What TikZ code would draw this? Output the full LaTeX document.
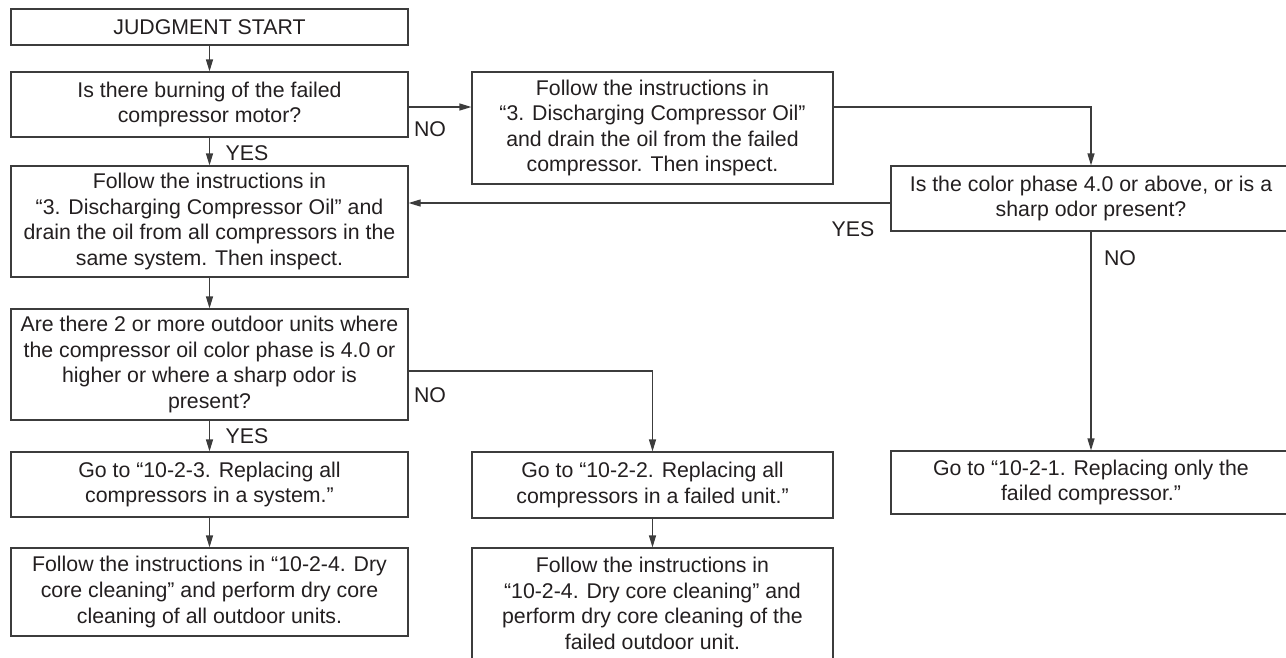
\documentclass[tikz,border=0pt]{standalone}
\usepackage{fontspec}
\setmainfont{Liberation Sans}
\usetikzlibrary{arrows.meta,positioning,calc}
\definecolor{ink}{HTML}{231F20}
\definecolor{wire}{HTML}{3C3C3C}

\begin{document}
\begin{tikzpicture}[
  x=1pt, y=-1pt,
  font=\fontsize{21.3}{25.6}\selectfont,
  box/.style={draw=wire, line width=1.2pt, rectangle, align=center,
              text=ink, inner sep=0pt, minimum width=397pt},
  arr/.style={-{Triangle[length=12pt, width=7pt]}, line width=1.2pt, draw=wire},
  lbl/.style={text=ink, inner sep=0pt},
]
\useasboundingbox (0,0) rectangle (1286,657);
\clip (0,0) rectangle (1286,657);
\fill[white] (0,0) rectangle (1286,657);

% left column
\node[box, minimum height=36pt] (start) at (209.5,27) {JUDGMENT START};
\node[box, minimum height=65pt] (burn) at (209.5,104.5)
  {Is there burning of the failed\\compressor motor?};
\node[box, minimum height=111pt] (oilall) at (209.5,221.5)
  {Follow the instructions in\\“3. Discharging Compressor Oil” and\\drain the oil from all compressors in the\\same system. Then inspect.};
\node[box, minimum height=111pt] (units) at (209.5,364.5)
  {Are there 2 or more outdoor units where\\the compressor oil color phase is 4.0 or\\higher or where a sharp odor is\\present?};
\node[box, minimum height=65pt] (allsys) at (209.5,484.5)
  {Go to “10-2-3. Replacing all\\compressors in a system.”};
\node[box, minimum height=88pt] (dryall) at (209.5,592)
  {Follow the instructions in “10-2-4. Dry\\core cleaning” and perform dry core\\cleaning of all outdoor units.};

% middle column
\node[box, minimum width=361pt, minimum height=112pt] (oilone) at (652.5,128)
  {Follow the instructions in\\“3. Discharging Compressor Oil”\\and drain the oil from the failed\\compressor. Then inspect.};
\node[box, minimum width=361pt, minimum height=66pt] (unitone) at (652.5,485)
  {Go to “10-2-2. Replacing all\\compressors in a failed unit.”};
\node[box, minimum width=361pt, minimum height=111pt] (dryone) at (652.5,603.5)
  {Follow the instructions in\\“10-2-4. Dry core cleaning” and\\perform dry core cleaning of the\\failed outdoor unit.};

% right column
\node[box, minimum width=400pt, minimum height=65pt] (phase) at (1091,198.5)
  {Is the color phase 4.0 or above, or is a\\sharp odor present?};
\node[box, minimum width=400pt, minimum height=63pt] (compone) at (1091,482.5)
  {Go to “10-2-1. Replacing only the\\failed compressor.”};

% flow
\foreach \a/\b in {start/burn, burn/oilall, oilall/units, units/allsys,
                   allsys/dryall, unitone/dryone, phase/compone}
  \draw[arr] (\a) -- (\b);

\coordinate (noa0) at ([yshift=-2.5pt]burn.east);
\draw[arr] (noa0) -- (noa0 -| oilone.west);
\draw[arr] ([yshift=21pt]oilone.east) -| (phase);
\coordinate (yesb0) at ([yshift=-4.5pt]phase.west);
\draw[arr] (yesb0) -- (yesb0 -| oilall.east);
\coordinate (nob0) at ([yshift=-6.5pt]units.east);
\draw[arr] (nob0) -| (unitone);

% answers
\node[lbl] (yesa) at (247,153.5) {YES};
\node[lbl] (noa) at (430,129.5) {NO};
\node[lbl] (yesb) at (853,229) {YES};
\node[lbl] (noc) at (1120,258) {NO};
\node[lbl] (nob) at (430,395) {NO};
\node[lbl] (yesc) at (247,436.5) {YES};

\end{tikzpicture}
\end{document}
